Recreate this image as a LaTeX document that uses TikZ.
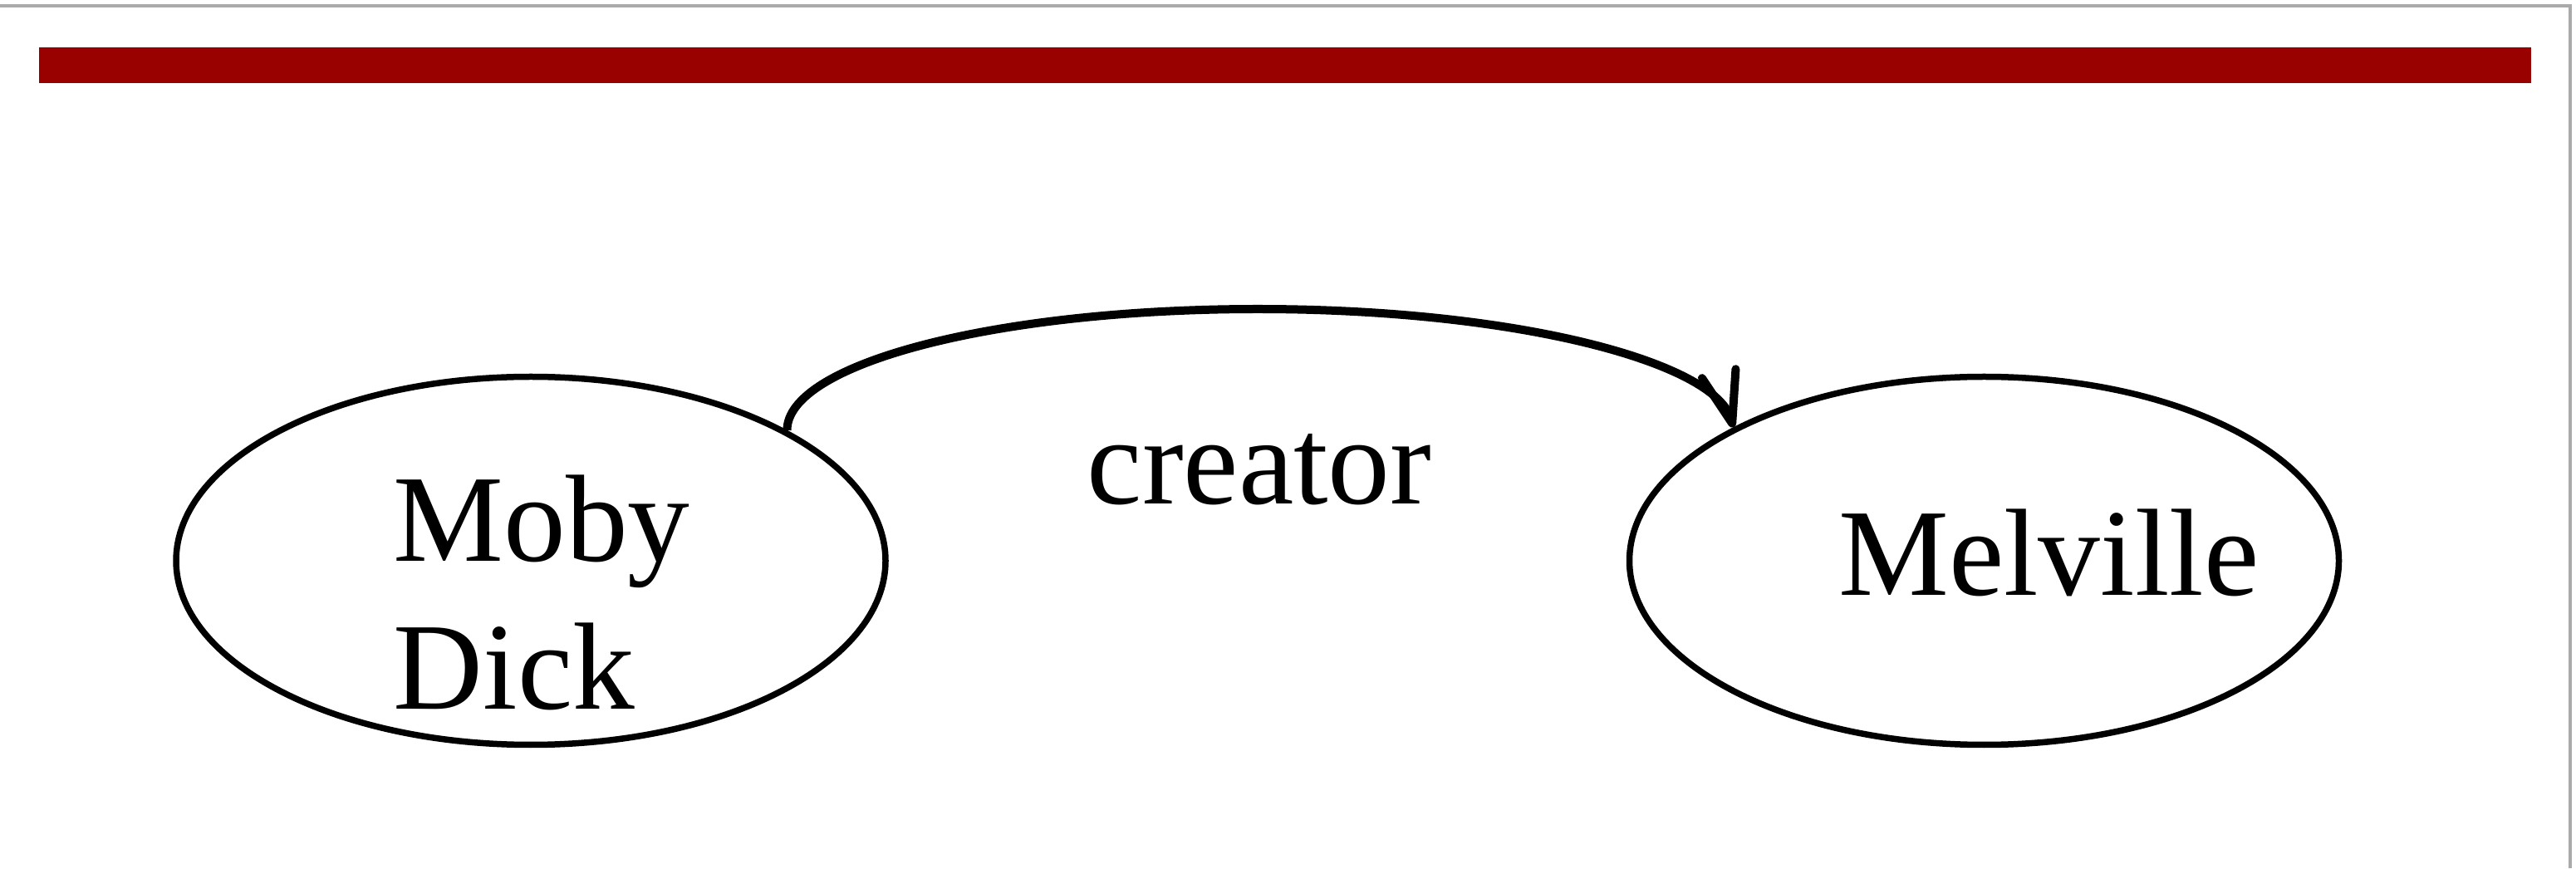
\documentclass[tikz,border=0pt]{standalone}
\usepackage{fontspec}
\setmainfont{Liberation Serif}
\usepackage{tikz}
\usetikzlibrary{positioning,shapes.geometric,arrows.meta}

\definecolor{slidered}{RGB}{153,0,0}
\definecolor{framegray}{RGB}{170,170,170}

\tikzset{
  entity/.style={draw, ellipse, line width=0.075cm, minimum width=8.54cm, minimum height=4.43cm, inner sep=0pt},
  word/.style={inner sep=0pt, font=\fontsize{42.5}{50.6}\selectfont},
  relation/.style={line width=0.1cm, -{Straight Barb[length=0.62cm,width=0.42cm,round]}},
}

\begin{document}
\begin{tikzpicture}
  \useasboundingbox (0,0) rectangle (31.01,10.45);
  \fill[slidered] (0.47,9.45) rectangle (30.47,9.88);
  \draw[framegray, line width=0.04cm] (0,10.38) -- (30.94,10.38) -- (30.94,0);

  \node[entity]                          (moby) at (6.39,3.70) {};
  \node[entity, right=8.88cm of moby]    (melville) {};
  \node[word, align=left, anchor=north west] (mobytext) at ([xshift=-1.66cm, yshift=1.04cm]moby.center) {Moby\\Dick};
  \node[word, anchor=base west]          (melvilletext) at ([xshift=-1.76cm, yshift=-0.42cm]melville.center) {Melville};
  \node[word, anchor=base]               (creator) at (15.16,4.38) {creator};
  \coordinate (arctop) at (15.14,6.73);

  \draw[relation] (moby.27) to[out=90, in=180, out distance=0.8cm, in distance=3.16cm] (arctop)
                  to[out=0, in=105, out distance=3.16cm, in distance=0.8cm] (melville.152);
\end{tikzpicture}
\end{document}
